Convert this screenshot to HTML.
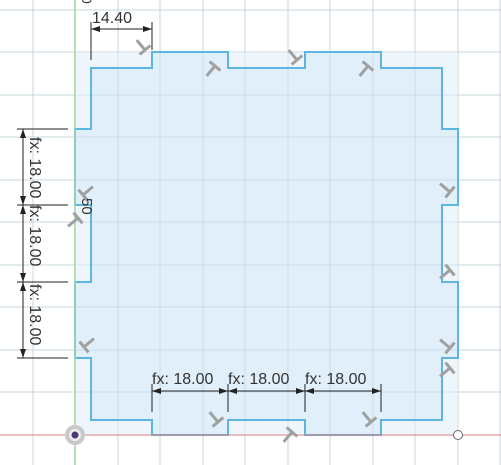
<!DOCTYPE html>
<html><head><meta charset="utf-8"><style>
html,body{margin:0;padding:0;background:#fff;}
svg{display:block;font-family:"Liberation Sans",sans-serif;}
</style></head><body>
<svg width="501" height="465" viewBox="0 0 501 465">
<defs>
<g id="gridlines">
<line x1="33" y1="0" x2="33" y2="465"/><line x1="118" y1="0" x2="118" y2="465"/><line x1="160" y1="0" x2="160" y2="465"/><line x1="203" y1="0" x2="203" y2="465"/><line x1="245" y1="0" x2="245" y2="465"/><line x1="288" y1="0" x2="288" y2="465"/><line x1="330" y1="0" x2="330" y2="465"/><line x1="373" y1="0" x2="373" y2="465"/><line x1="415" y1="0" x2="415" y2="465"/><line x1="458" y1="0" x2="458" y2="465"/><line x1="500" y1="0" x2="500" y2="465"/>
<line x1="0" y1="10" x2="501" y2="10"/><line x1="0" y1="52" x2="501" y2="52"/><line x1="0" y1="95" x2="501" y2="95"/><line x1="0" y1="137" x2="501" y2="137"/><line x1="0" y1="180" x2="501" y2="180"/><line x1="0" y1="222" x2="501" y2="222"/><line x1="0" y1="265" x2="501" y2="265"/><line x1="0" y1="307" x2="501" y2="307"/><line x1="0" y1="350" x2="501" y2="350"/><line x1="0" y1="392" x2="501" y2="392"/>
</g>
</defs>
<g stroke="#e4e4e4" stroke-width="1"><use href="#gridlines"/></g>
<rect x="75" y="52" width="383" height="383" fill="#eef6fc"/>
<path d="M91,68 L152,68 L152,52 L228,52 L228,68 L305,68 L305,52 L381,52 L381,68 L442,68 L442,129 L458,129 L458,205 L442,205 L442,282 L458,282 L458,358 L442,358 L442,420 L381,420 L381,435 L305,435 L305,420 L228,420 L228,435 L152,435 L152,420 L91,420 L91,358 L75,358 L75,282 L91,282 L91,205 L75,205 L75,129 L91,129 Z" fill="#e0effa" stroke="#5db6e2" stroke-width="2"/>
<g stroke="#9cc0d8" stroke-opacity="0.35" stroke-width="1"><use href="#gridlines"/></g>
<path d="M91,68 L152,68 L152,52 L228,52 L228,68 L305,68 L305,52 L381,52 L381,68 L442,68 L442,129 L458,129 L458,205 L442,205 L442,282 L458,282 L458,358 L442,358 L442,420 L381,420 L381,435 L305,435 L305,420 L228,420 L228,435 L152,435 L152,420 L91,420 L91,358 L75,358 L75,282 L91,282 L91,205 L75,205 L75,129 L91,129 Z" fill="none" stroke="#5db6e2" stroke-width="2"/>
<line x1="75" y1="0" x2="75" y2="465" stroke="#9ed89e" stroke-width="1.5"/>
<line x1="0" y1="435" x2="501" y2="435" stroke="#e08080" stroke-width="1"/>
<g stroke="#a0a0a0" stroke-width="3" fill="none">
<g transform="translate(145,50) rotate(-40)"><path d="M-7,0 L7,0 M0,0 L0,-13"/></g>
<g transform="translate(215,66) rotate(40)"><path d="M-7,0 L7,0 M0,0 L0,13"/></g>
<g transform="translate(297,60) rotate(-40)"><path d="M-7,0 L7,0 M0,0 L0,-13"/></g>
<g transform="translate(368,66) rotate(40)"><path d="M-7,0 L7,0 M0,0 L0,13"/></g>
<g transform="translate(83,195) rotate(50)"><path d="M-7,0 L7,0 M0,0 L0,-13"/></g>
<g transform="translate(78,218) rotate(50)"><path d="M-7,0 L7,0 M0,0 L0,13"/></g>
<g transform="translate(84,347) rotate(50)"><path d="M-7,0 L7,0 M0,0 L0,-13"/></g>
<g transform="translate(450,192) rotate(-50)"><path d="M-7,0 L7,0 M0,0 L0,-13"/></g>
<g transform="translate(450,270) rotate(50)"><path d="M-7,0 L7,0 M0,0 L0,13"/></g>
<g transform="translate(450,348) rotate(-50)"><path d="M-7,0 L7,0 M0,0 L0,-13"/></g>
<g transform="translate(450,368) rotate(50)"><path d="M-7,0 L7,0 M0,0 L0,13"/></g>
<g transform="translate(218,422) rotate(-40)"><path d="M-7,0 L7,0 M0,0 L0,-13"/></g>
<g transform="translate(292,432) rotate(40)"><path d="M-7,0 L7,0 M0,0 L0,13"/></g>
<g transform="translate(371,422) rotate(-40)"><path d="M-7,0 L7,0 M0,0 L0,-13"/></g>
</g>
<g>
<circle cx="75" cy="435" r="10" fill="#c8c8c8"/><circle cx="75" cy="435" r="6" fill="#eee"/><circle cx="75" cy="435" r="3.5" fill="#4a3a7a"/>
</g>
<circle cx="458" cy="435" r="4.5" fill="#fff" stroke="#666" stroke-width="1"/>
<g stroke="#222" stroke-width="1" fill="#222" font-size="16">
<g>
<line x1="91" y1="22" x2="91" y2="60"/><line x1="152" y1="22" x2="152" y2="50"/><line x1="91" y1="29" x2="152" y2="29"/>
<path d="M91,29 l9,-3 v6z M152,29 l-9,-3 v6z" stroke="none"/>
<text x="92" y="23" stroke="none" fill="#333">14.40</text>
</g>
<g>
<line x1="17" y1="129" x2="68" y2="129"/><line x1="17" y1="205" x2="68" y2="205"/><line x1="17" y1="282" x2="68" y2="282"/><line x1="17" y1="358" x2="68" y2="358"/>
<line x1="23" y1="129" x2="23" y2="358"/>
<path d="M23,129 l-3,9 h6z M23,205 l-3,-9 h6z M23,205 l-3,9 h6z M23,282 l-3,-9 h6z M23,282 l-3,9 h6z M23,358 l-3,-9 h6z" stroke="none"/>
<text transform="translate(30,137) rotate(90)" stroke="none" fill="#333">fx: 18.00</text>
<text transform="translate(30,205) rotate(90)" stroke="none" fill="#333">fx: 18.00</text>
<text transform="translate(30,284) rotate(90)" stroke="none" fill="#333">fx: 18.00</text>
</g>
<g>
<line x1="152" y1="384" x2="152" y2="412"/><line x1="228" y1="384" x2="228" y2="412"/><line x1="305" y1="384" x2="305" y2="412"/><line x1="381" y1="384" x2="381" y2="412"/>
<line x1="152" y1="391" x2="381" y2="391"/>
<path d="M152,391 l9,-3 v6z M228,391 l-9,-3 v6z M228,391 l9,-3 v6z M305,391 l-9,-3 v6z M305,391 l9,-3 v6z M381,391 l-9,-3 v6z" stroke="none"/>
<text x="152" y="384" stroke="none" fill="#333">fx: 18.00</text>
<text x="228" y="384" stroke="none" fill="#333">fx: 18.00</text>
<text x="305" y="384" stroke="none" fill="#333">fx: 18.00</text>
</g>
<text transform="translate(82,198) rotate(90)" stroke="none" fill="#333" font-size="15">50</text>
<text transform="translate(82,-4) rotate(90)" stroke="none" fill="#333" font-size="14">0</text>
</g>
</svg>
</body></html>
